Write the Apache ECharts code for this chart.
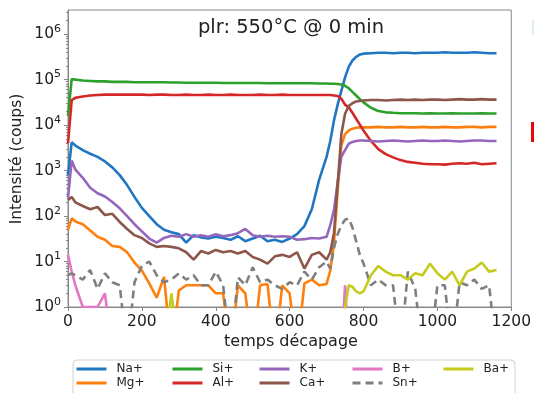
<!DOCTYPE html>
<html>
<head>
<meta charset="utf-8">
<script src="https://cdn.jsdelivr.net/npm/echarts@6/dist/echarts.min.js"></script>
<style>
html,body{margin:0;padding:0;background:#fff;}
#chart{width:534px;height:393px;}
</style>
</head>
<body>
<div id="chart"></div>
<script>
// time (s) sample points
const time = [
  0, 10,
  20, 40, 60, 80, 100,
  120, 140, 160, 180, 200,
  220, 240, 260, 280, 300,
  320, 340, 360, 380, 400,
  420, 440, 460, 480, 500,
  520, 540, 560, 580, 600,
  620, 640, 660, 680, 700,
  710, 720, 730, 740, 750,
  760, 770, 780, 790, 800,
  820, 840, 860, 880, 900,
  920, 940, 960, 980, 1000,
  1020, 1040, 1060, 1080, 1100,
  1120, 1140, 1160
];
// 0.1 marks zero counts (drawn below the log axis bottom)
const naPlus = [
  794, 4169,
  3548, 2818, 2344, 1995, 1585,
  1175, 794, 479, 263, 151,
  100, 66, 50, 44, 40,
  26, 38, 34, 32, 35,
  33, 30, 36, 28, 32,
  37, 28, 30, 27, 32,
  40, 60, 141, 631, 1995,
  4467, 12590, 28180, 56230, 112200,
  190500, 263000, 316200, 354800, 371500,
  380000, 389000, 389000, 380000, 389000,
  389000, 380000, 389000, 389000, 389000,
  398000, 389000, 389000, 389000, 398000,
  389000, 380000, 380000
];
const mgPlus = [
  50, 89,
  76, 66, 48, 35, 30,
  22, 21, 16, 9.5, 6.3,
  3.3, 1.6, 4.6, 0.1, 2.3,
  3, 3, 3, 3, 2,
  2, 0.1, 3, 2, 0.1,
  3, 3.2, 0.1, 3, 2,
  0.1, 3.3, 4, 3, 3.2,
  6.3, 25, 355, 3548, 6310,
  7586, 8318, 8710, 8913, 8913,
  8913, 9120, 8913, 8913, 9120,
  8913, 8913, 9120, 8913, 8913,
  9120, 8913, 8913, 9120, 9120,
  8913, 9120, 9120
];
const siPlus = [
  15850, 102300,
  100000, 95500, 93300, 91200, 91200,
  89100, 89100, 89100, 87100, 87100,
  87100, 87100, 87100, 86000, 86000,
  85100, 85100, 85100, 85100, 85100,
  84000, 84000, 84000, 84000, 84000,
  84000, 83200, 83200, 83200, 83200,
  83200, 83200, 83200, 82000, 82000,
  81300, 81300, 80000, 78000, 73000,
  64600, 53700, 44700, 37200, 31600,
  24000, 20400, 19050, 18600, 18200,
  18200, 18200, 18000, 18200, 18000,
  18000, 18200, 18000, 18000, 18000,
  18200, 18000, 18000
];
const alPlus = [
  3981, 35480,
  39810, 42660, 44670, 45710, 46770,
  46770, 46770, 46770, 46770, 46770,
  46000, 46770, 46770, 46000, 46000,
  46770, 46000, 46000, 46770, 46000,
  46000, 46770, 46000, 46000, 46000,
  46770, 46000, 46000, 46770, 46000,
  46000, 46000, 45710, 45710, 45710,
  45710, 44670, 43650, 38020, 28180,
  24550, 18620, 13800, 10230, 7586,
  4467, 2951, 2291, 1950, 1698,
  1549, 1479, 1413, 1380, 1380,
  1349, 1413, 1445, 1413, 1479,
  1380, 1413, 1445
];
const kPlus = [
  251, 1660,
  1047, 692, 417, 316, 269,
  204, 148, 100, 66, 46,
  32, 26, 33, 37, 35,
  40, 35, 38, 35, 40,
  36, 38, 42, 52, 38,
  35, 37, 35, 36, 35,
  30, 31, 33, 32, 35,
  63, 135, 560, 2000, 2818,
  3890, 4266, 4467, 4571, 4571,
  4467, 4365, 4467, 4571, 4467,
  4365, 4467, 4571, 4467, 4467,
  4571, 4467, 4365, 4467, 4571,
  4571, 4467, 4467
];
const caPlus = [
  224, 263,
  200, 166, 141, 158, 105,
  112, 74, 52, 38, 33,
  25, 21, 22, 21, 19.5,
  16, 11, 17, 15, 18,
  16, 17, 15, 17, 12.6,
  11, 9, 13, 14, 12.6,
  16, 7, 14, 16, 11,
  16, 42, 500, 6310, 17780,
  26300, 30200, 33110, 33880, 34670,
  35480, 35480, 34670, 35480, 36310,
  35480, 36310, 35480, 36310, 36310,
  35480, 36310, 37150, 36310, 36310,
  37150, 36310, 36310
];
const bPlus = [
  14, 6,
  3, 1, 1, 1, 2,
  0.1, 0.1, 0.1, 0.1, 0.1,
  0.1, 0.1, 0.1, 0.1, 0.1,
  0.1, 0.1, 0.1, 0.1, 0.1,
  0.1, 0.1, 0.1, 0.1, 0.1,
  0.1, 0.1, 0.1, 0.1, 0.1,
  0.1, 0.1, 0.1, 0.1, 0.1,
  0.1, 0.1, 0.1, 0.1, 3,
  0.1, 0.1, 0.1, 0.1, 0.1,
  0.1, 0.1, 0.1, 0.1, 0.1,
  0.1, 0.1, 0.1, 0.1, 0.1,
  0.1, 0.1, 0.1, 0.1, 0.1,
  0.1, 0.1, 0.1
];
const snPlus = [
  5, 5.5,
  5, 4, 6.5, 2.5, 5.5,
  3.5, 3, 0.1, 3.5, 8,
  10, 5, 3.5, 4, 5.5,
  4, 5, 3, 3, 6,
  3, 0.1, 4.5, 3, 7.5,
  3.5, 4, 3, 2.5, 3.5,
  3, 6, 4, 7.5, 10,
  7, 20, 40, 63, 83,
  89, 56, 28, 14, 9,
  3, 4, 3, 3, 0.1,
  6, 2.5, 0.1, 0.1, 3,
  3, 0.1, 3.5, 3, 4,
  2.5, 3, 0.1
];
const baPlus = [
  0.1, 0.1,
  0.1, 0.1, 0.1, 0.1, 0.1,
  0.1, 0.1, 0.1, 0.1, 0.1,
  0.1, 0.1, 0.1, 2, 0.1,
  0.1, 0.1, 0.1, 0.1, 0.1,
  0.1, 0.1, 0.1, 0.1, 0.1,
  0.1, 0.1, 0.1, 0.1, 0.1,
  0.1, 0.1, 0.1, 0.1, 0.1,
  0.1, 0.1, 0.1, 0.1, 1,
  3, 2.8, 2.2, 2, 2.2,
  5, 8, 6, 5, 5,
  4, 5.5, 5, 9, 5.5,
  4, 6, 3, 6, 7,
  9.5, 6, 6.5
];
const xTicks = [0, 200, 400, 600, 800, 1000, 1200];
const yMajorTicks = [1, 10, 100, 1000, 10000, 100000, 1000000];

const FONT = 'DejaVu Sans';
const seriesDefs = [
  {name: 'Na+', data: naPlus, color: '#1f77c4'},
  {name: 'Mg+', data: mgPlus, color: '#ff7f0e'},
  {name: 'Si+', data: siPlus, color: '#2ca02c'},
  {name: 'Al+', data: alPlus, color: '#d62728'},
  {name: 'K+',  data: kPlus,  color: '#9467bd'},
  {name: 'Ca+', data: caPlus, color: '#8c564b'},
  {name: 'B+',  data: bPlus,  color: '#e377c2'},
  {name: 'Sn+', data: snPlus, color: '#7f7f7f', dash: [8, 5]},
  {name: 'Ba+', data: baPlus, color: '#c5cc1c'}
];

const yMinorTicks = [];
for (let e = 0; e < 7; e++) for (let m = 2; m <= 9; m++) yMinorTicks.push(m * Math.pow(10, e));

const series = seriesDefs.map(s => ({
  name: s.name,
  type: 'line',
  symbol: 'none',
  clip: true,
  data: time.map((t, i) => [t, s.data[i]]),
  lineStyle: {color: s.color, width: 2.6, type: s.dash || 'solid'},
  itemStyle: {color: s.color},
  emphasis: {disabled: true}
}));

const legendCols = [
  {left: 75, data: ['Na+', 'Mg+']},
  {left: 171, data: ['Si+', 'Al+']},
  {left: 258, data: ['K+', 'Ca+']},
  {left: 351, data: ['B+', 'Sn+']},
  {left: 442, data: ['Ba+']}
];

const chart = echarts.init(document.getElementById('chart'), null, {renderer: 'canvas'});
const yMax = Math.pow(10, 6.53);
chart.setOption({
  animation: false,
  backgroundColor: '#fff',
  grid: {left: 68, top: 10, width: 446, height: 297, show: true, borderColor: '#888', borderWidth: 1, backgroundColor: 'transparent'},
  xAxis: {
    type: 'value', min: 0, max: 1200, interval: 200,
    axisLine: {show: true, lineStyle: {color: '#888', width: 1}},
    axisTick: {show: true, length: 4, lineStyle: {color: '#888'}},
    axisLabel: {fontFamily: FONT, fontSize: 15.5, color: '#222', margin: 7, formatter: v => String(v)},
    splitLine: {show: false}
  },
  yAxis: [{
    type: 'log', logBase: 10, min: 1, max: yMax,
    axisLine: {show: true, lineStyle: {color: '#888', width: 1}},
    axisTick: {show: true, length: 4, lineStyle: {color: '#888'}, customValues: yMajorTicks},
    axisLabel: {
      customValues: yMajorTicks,
      margin: 7,
      formatter: v => '{b|10}{e|' + Math.round(Math.log10(v)) + '}',
      rich: {
        b: {fontFamily: FONT, fontSize: 15.5, color: '#222'},
        e: {fontFamily: FONT, fontSize: 11, color: '#222', padding: [0, 0, 10, 0]}
      }
    },
    splitLine: {show: false}
  }, {
    type: 'log', logBase: 10, min: 1, max: yMax, position: 'left',
    axisLine: {show: false},
    axisTick: {show: true, length: 2, lineStyle: {color: '#888'}, customValues: yMinorTicks},
    axisLabel: {show: false},
    splitLine: {show: false}
  }],
  legend: legendCols.map(c => ({
    orient: 'vertical', left: c.left, top: 363, height: 30,
    padding: 0,
    itemWidth: 30, itemHeight: 12, itemGap: 2,
    selectedMode: false,
    itemStyle: {opacity: 0},
    lineStyle: {width: 3},
    data: c.data,
    textStyle: {fontFamily: FONT, fontSize: 12, color: '#222', lineHeight: 12, padding: [0, 0, 0, 5]}
  })),
  graphic: [
    {type: 'rect', z: 0, shape: {x: 73, y: 360, width: 442, height: 40, r: 4}, style: {fill: 'transparent', stroke: '#d0d0d0', lineWidth: 1}},
    {type: 'text', z: 10, style: {x: 291, y: 28, text: 'plr: 550°C @ 0 min', textAlign: 'center', textVerticalAlign: 'middle', font: '19.5px "DejaVu Sans"', fill: '#222'}},
    {type: 'text', z: 10, style: {x: 291, y: 342, text: 'temps décapage', textAlign: 'center', textVerticalAlign: 'middle', font: '16px "DejaVu Sans"', fill: '#222'}},
    {type: 'text', z: 10, x: 17, y: 159, rotation: Math.PI / 2, style: {x: 0, y: 0, text: 'Intensité (coups)', textAlign: 'center', textVerticalAlign: 'middle', font: '15.5px "DejaVu Sans"', fill: '#222'}},
    {type: 'rect', z: 10, shape: {x: 531, y: 122, width: 3, height: 20}, style: {fill: '#e4080a'}},
    {type: 'rect', z: 10, shape: {x: 532, y: 20, width: 2, height: 15}, style: {fill: '#dcefee'}}
  ],
  series: series
});
</script>
</body>
</html>
